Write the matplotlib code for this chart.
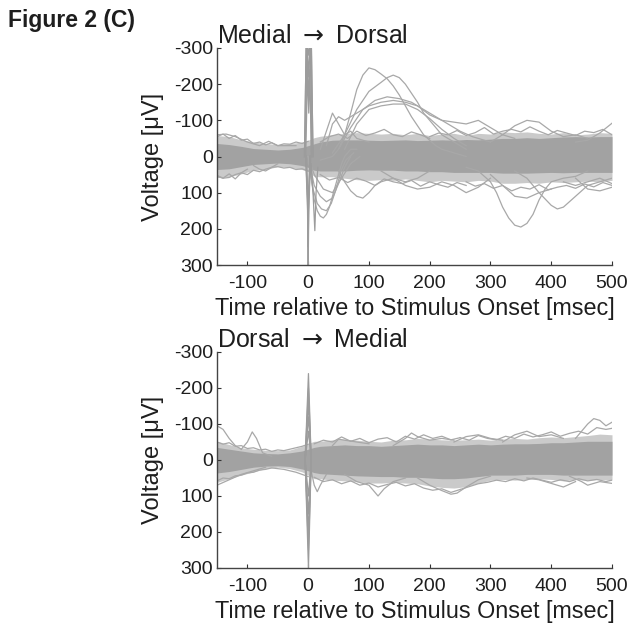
import numpy as np
import matplotlib
matplotlib.use("Agg")
import matplotlib.pyplot as plt

plt.rcParams['font.family'] = ['Liberation Sans', 'DejaVu Sans']
plt.rcParams['axes.unicode_minus'] = False
plt.rcParams['mathtext.fontset'] = 'dejavusans'

# -----------------------
# data (uV; negative is plotted upward)
# -----------------------
t_env = [-150, -130, -110, -90, -70, -50, -30, -10, 0, 10, 20, 40, 60, 80, 100,
         120, 140, 160, 180, 200, 220, 240, 260, 280, 300, 320, 340, 360, 380,
         400, 420, 440, 460, 480, 500]

# Medial -> Dorsal: band of traces
md_outer_hi = [-58, -55, -46, -40, -36, -33, -36, -40, -45, -52, -56, -60, -64, -66, -64,
               -62, -64, -60, -64, -58, -62, -64, -58, -64, -62, -68, -66, -68, -64,
               -62, -66, -60, -62, -66, -64]
md_outer_lo = [58, 56, 48, 38, 36, 28, 30, 36, 42, 55, 56, 56, 60, 64, 66,
               64, 66, 62, 66, 70, 66, 68, 70, 66, 68, 74, 74, 72, 74,
               70, 72, 70, 68, 70, 66]
md_core_hi = [-36, -33, -28, -22, -20, -18, -20, -25, -30, -35, -40, -45, -46, -46, -45,
              -44, -45, -46, -44, -45, -46, -45, -47, -46, -48, -50, -50, -52, -50,
              -52, -54, -55, -54, -55, -55]
md_core_lo = [36, 34, 28, 22, 20, 18, 20, 25, 30, 38, 40, 40, 40, 38, 37,
              38, 38, 40, 40, 42, 42, 44, 44, 44, 44, 46, 46, 46, 45,
              44, 45, 44, 44, 44, 44]

# Medial -> Dorsal: single traces that leave the band
md_traces = [
    ([20, 40, 50, 60, 70, 80, 90, 100, 110, 120, 130, 140, 150, 160, 170, 180, 190, 200, 210, 220, 240, 260],
     [10, 0, -20, -60, -120, -185, -225, -245, -240, -228, -215, -195, -170, -140, -110, -85, -60, -45, -30, -20, -10, 0]),
    ([40, 60, 80, 100, 120, 130, 140, 150, 160, 170, 180, 190, 200, 210, 220, 240, 260],
     [-10, -60, -130, -180, -205, -218, -225, -218, -200, -175, -150, -120, -100, -80, -60, -40, -20]),
    ([50, 70, 90, 110, 130, 150, 170, 190, 210, 230, 250, 270, 300],
     [-20, -80, -130, -155, -165, -160, -150, -130, -110, -90, -70, -55, -40]),
    ([30, 40, 50, 60, 80, 100, 120, 140, 160, 180, 200, 220, 240, 260, 280, 300, 320, 340],
     [-30, -90, -110, -100, -120, -140, -150, -155, -150, -140, -115, -100, -95, -90, -100, -80, -60, -50]),
    ([60, 80, 100, 120, 140, 160, 180, 200, 220, 240, 260],
     [-20, -90, -130, -140, -145, -145, -130, -105, -75, -50, -30]),
    ([20, 30, 40, 50, 60, 70, 80, 100],
     [-20, -70, -120, -90, -60, -70, -50, -40]),
    ([300, 320, 340, 360, 380, 400, 420, 440, 460],
     [-40, -60, -85, -100, -95, -70, -55, -60, -50]),
    ([440, 460, 480, 500], [-40, -45, -65, -92]),
    ([0, 5, 10, 15, 20, 25, 30, 35, 40, 45, 50, 55, 60, 70, 80],
     [0, 60, 120, 150, 165, 170, 160, 140, 110, 80, 50, 20, 0, -20, -20]),
    ([0, 8, 15, 22, 30, 38, 46, 54, 62, 75],
     [0, 90, 130, 145, 150, 130, 90, 40, 10, -10]),
    ([0, 10, 20, 30, 40, 50, 60, 70], [0, 80, 110, 125, 115, 75, 30, 0]),
    ([0, 10, 25, 40, 55, 70, 85], [0, 50, 90, 100, 60, 20, 0]),
    ([50, 60, 70, 80, 90, 100, 110, 120, 140, 160, 180, 200],
     [40, 70, 95, 110, 115, 100, 80, 70, 60, 70, 60, 40]),
    ([120, 140, 160, 180, 200, 220, 240, 260, 280, 300],
     [40, 60, 80, 90, 85, 70, 80, 100, 85, 60]),
    ([260, 280, 300, 310, 320, 330, 340, 350, 360, 370, 380, 390, 400, 420, 440, 460],
     [30, 40, 70, 100, 140, 170, 190, 195, 185, 160, 120, 90, 70, 60, 55, 40]),
    ([340, 360, 380, 400, 410, 420, 440, 460, 480, 500],
     [40, 60, 100, 135, 145, 140, 110, 80, 70, 60]),
    ([300, 320, 340, 360, 380, 400], [50, 80, 110, 115, 100, 90]),
    ([440, 460, 480, 500], [60, 90, 95, 85]),
    ([420, 440, 460, 480, 500], [70, 80, 70, 60, 75]),
    ([-150, -140, -130, -120, -110, -100], [55, 60, 58, 50, 45, 35]),
    ([-90, -80, -70, -60, -50], [25, 35, 40, 30, 20]),
    ([-150, -135, -120, -100, -80, -65, -50, -20], [-60, -62, -55, -40, -30, -42, -30, -30]),
    # ragged edges of the band
    ([20, 35, 50, 65, 80, 95, 110, 125, 140, 155, 170, 185, 200],
     [-40, -55, -62, -50, -70, -58, -65, -75, -60, -55, -68, -60, -50]),
    ([200, 215, 230, 245, 260, 275, 290, 305, 320, 335, 350, 365, 380, 395, 410, 425, 440, 455, 470, 485, 500],
     [-55, -65, -60, -72, -58, -66, -80, -62, -70, -75, -68, -82, -70, -60, -72, -65, -58, -70, -66, -75, -60]),
    ([20, 35, 50, 65, 80, 95, 110, 125, 140, 155, 170, 185, 200, 215, 230, 245, 260],
     [50, 65, 58, 72, 60, 68, 80, 62, 70, 75, 66, 82, 70, 78, 85, 72, 80]),
    ([260, 275, 290, 305, 320, 335, 350, 365, 380, 395, 410, 425, 440, 455, 470, 485, 500],
     [70, 82, 75, 88, 80, 95, 85, 90, 78, 92, 85, 80, 88, 76, 84, 72, 80]),
    ([-150, -140, -130, -120, -110, -100, -90, -80, -70, -60, -50, -40, -30, -20, -10, 0],
     [-55, -62, -50, -58, -45, -48, -36, -40, -32, -38, -30, -35, -34, -40, -36, -42]),
    ([-150, -140, -130, -120, -110, -100, -90, -80, -70, -60, -50, -40, -30, -20, -10, 0],
     [52, 60, 48, 62, 45, 50, 38, 42, 35, 30, 28, 32, 30, 36, 34, 40]),
]
# stimulus artefact around t = 0
md_artifact = [
    ([-6, -3, 1, 5, 8], [0, -340, -340, -340, 0]),
    ([-6, -3, 1, 5, 8], [0, -340, -280, -340, 0]),
    ([-5, -2, 1, 4, 7], [0, -340, -220, -340, 0]),
    ([-5, -2, 1, 4, 6], [0, -300, -160, -300, 0]),
    ([-4, -1, 1, 3, 5], [0, -240, -120, -240, 0]),
    ([-4, -1, 0, 1, 4], [0, 150, 310, 150, 0]),
    ([-4, -1, 0, 1, 4], [0, 120, 250, 120, 0]),
    ([-3, -1, 0, 1, 3], [0, 100, 190, 100, 0]),
    ([-3, 0, 3], [0, 130, 0]),
    ([5, 8, 11, 13, 16], [20, 100, 205, 100, 30]),
]

# Dorsal -> Medial: band of traces
dm_outer_hi = [-52, -43, -34, -30, -27, -26, -28, -38, -46, -52, -52, -56, -58, -55, -52,
               -50, -55, -56, -60, -58, -56, -55, -56, -58, -55, -58, -60, -58, -62,
               -64, -62, -65, -68, -72, -70]
dm_outer_lo = [62, 52, 42, 33, 24, 20, 24, 33, 42, 52, 52, 56, 58, 60, 64,
               64, 62, 64, 66, 72, 76, 78, 74, 64, 56, 54, 56, 54, 52,
               54, 58, 54, 56, 54, 56]
dm_core_hi = [-35, -30, -25, -20, -18, -17, -20, -25, -30, -35, -38, -40, -42, -40, -40,
              -38, -40, -42, -44, -42, -42, -40, -42, -44, -42, -44, -45, -45, -46,
              -48, -48, -50, -52, -52, -52]
dm_core_lo = [36, 32, 26, 20, 17, 16, 18, 25, 30, 35, 38, 40, 42, 44, 45,
              46, 46, 48, 48, 50, 52, 52, 50, 46, 42, 42, 42, 40, 40,
              40, 42, 42, 42, 42, 42]

dm_traces = [
    ([-150, -140, -130, -120, -110], [-95, -85, -60, -40, -30]),
    ([-110, -100, -92, -85, -75, -60], [-30, -50, -78, -60, -20, -10]),
    ([-150, -130, -110, -90, -70], [70, 55, 40, 30, 20]),
    ([60, 80, 100, 110, 115, 125, 140, 160], [40, 60, 70, 90, 100, 80, 60, 50]),
    ([5, 10, 15, 20, 30], [30, 70, 88, 70, 40]),
    ([180, 200, 220, 235, 245, 260, 280, 300], [50, 70, 85, 95, 92, 75, 55, 45]),
    ([40, 50, 60, 80, 100], [-40, -58, -55, -50, -45]),
    ([140, 160, 170, 180, 200, 220, 240], [-40, -60, -75, -65, -55, -60, -55]),
    ([320, 340, 360, 380, 400, 420], [-50, -70, -80, -65, -70, -60]),
    ([440, 450, 460, 470, 480, 490, 500], [-60, -80, -100, -115, -110, -95, -105]),
    ([430, 450, 460, 480, 500], [45, 60, 70, 60, 65]),
    ([240, 260, 280, 300, 320], [-50, -65, -70, -60, -55]),
    ([360, 380, 400, 420, 440], [50, 55, 65, 75, 60]),
    # ragged edges of the band
    ([10, 25, 40, 55, 70, 85, 100, 115, 130, 145, 160, 175, 190, 205, 220, 235, 250],
     [-45, -55, -50, -64, -52, -60, -48, -58, -62, -50, -66, -58, -70, -60, -66, -56, -62]),
    ([250, 265, 280, 295, 310, 325, 340, 355, 370, 385, 400, 415, 430, 445, 460, 475, 490, 500],
     [-62, -55, -68, -60, -56, -66, -60, -72, -64, -70, -78, -66, -74, -80, -72, -90, -85, -88]),
    ([10, 25, 40, 55, 70, 85, 100, 115, 130, 145, 160, 175, 190, 205, 220, 235, 250],
     [48, 60, 55, 66, 58, 70, 64, 75, 68, 62, 72, 66, 78, 84, 80, 90, 82]),
    ([250, 265, 280, 295, 310, 325, 340, 355, 370, 385, 400, 415, 430, 445, 460, 475, 490, 500],
     [82, 74, 66, 62, 56, 60, 52, 58, 50, 56, 62, 55, 60, 52, 58, 54, 60, 56]),
    ([-150, -140, -130, -120, -110, -100, -90, -80, -70, -60, -50, -40, -30, -20, -10, 0],
     [-50, -44, -48, -38, -40, -32, -34, -28, -30, -24, -28, -26, -30, -34, -38, -44]),
    ([-150, -140, -130, -120, -110, -100, -90, -80, -70, -60, -50, -40, -30, -20, -10, 0],
     [58, 50, 52, 44, 42, 36, 34, 28, 26, 22, 24, 26, 30, 34, 40, 46]),
]
dm_artifact_up = [240, 200, 160, 120, 80]
dm_artifact_down = [300, 250, 200, 150, 100]

x_ticks = [-100, 0, 100, 200, 300, 400, 500]
y_ticks = [-300, -200, -100, 0, 100, 200, 300]

line_c = '#a8a8a8'
text_c = '#1e1e1e'

fig = plt.figure(figsize=(6.35, 6.30), dpi=100)
ax_top = fig.add_axes([217 / 635, 1 - 265 / 630, 395 / 635, 217 / 630])
ax_bot = fig.add_axes([217 / 635, 1 - 568 / 630, 395 / 635, 216 / 630])


def draw_panel(ax, title, outer_hi, outer_lo, core_hi, core_lo, traces, artifact):
    ax.fill_between(t_env, outer_hi, outer_lo, color='#cacaca', lw=0)
    ax.fill_between(t_env, core_hi, core_lo, color='#a2a2a2', lw=0)
    for t, v in traces:
        ax.plot(t, v, color=line_c, lw=0.9)
    for t, v in artifact:
        ax.plot(t, v, color='#9c9c9c', lw=0.9)

    ax.set_xlim(-150, 500)
    ax.set_ylim(300, -300)
    ax.set_xticks(x_ticks)
    ax.set_yticks(y_ticks)
    ax.tick_params(direction='in', length=3, width=0.8, labelsize=14,
                   colors='#333333', labelcolor=text_c)
    ax.tick_params(axis='x', pad=7)
    ax.tick_params(axis='y', pad=3)
    for s in ['top', 'right']:
        ax.spines[s].set_visible(False)
    for s in ['left', 'bottom']:
        ax.spines[s].set_color('#444444')
        ax.spines[s].set_linewidth(1.0)
    ax.text(0, 1.022, title, transform=ax.transAxes, fontsize=18,
            color=text_c, va='baseline', ha='left')
    ax.text(0.5, -50 / 217, 'Time relative to Stimulus Onset [msec]',
            transform=ax.transAxes, fontsize=16.8, color=text_c,
            va='baseline', ha='center')
    ax.text(-64 / 395, 0.5, 'Voltage [\u03bcV]', transform=ax.transAxes,
            fontsize=17, color=text_c, rotation=90, va='center', ha='center')


draw_panel(ax_top, r'Medial $\rightarrow$ Dorsal', md_outer_hi, md_outer_lo,
           md_core_hi, md_core_lo, md_traces, md_artifact)

dm_artifact = [([-5, 0.5, 5], [0, -a, 0]) for a in dm_artifact_up] + \
              [([-5, 0.5, 5], [0, a, 0]) for a in dm_artifact_down]
draw_panel(ax_bot, r'Dorsal $\rightarrow$ Medial', dm_outer_hi, dm_outer_lo,
           dm_core_hi, dm_core_lo, dm_traces, dm_artifact)

fig.text(8 / 635, 1 - 27 / 630, 'Figure 2 (C)', fontsize=16.5, fontweight='bold',
         color=text_c, va='baseline', ha='left')

fig.savefig('out.png', dpi=100)
